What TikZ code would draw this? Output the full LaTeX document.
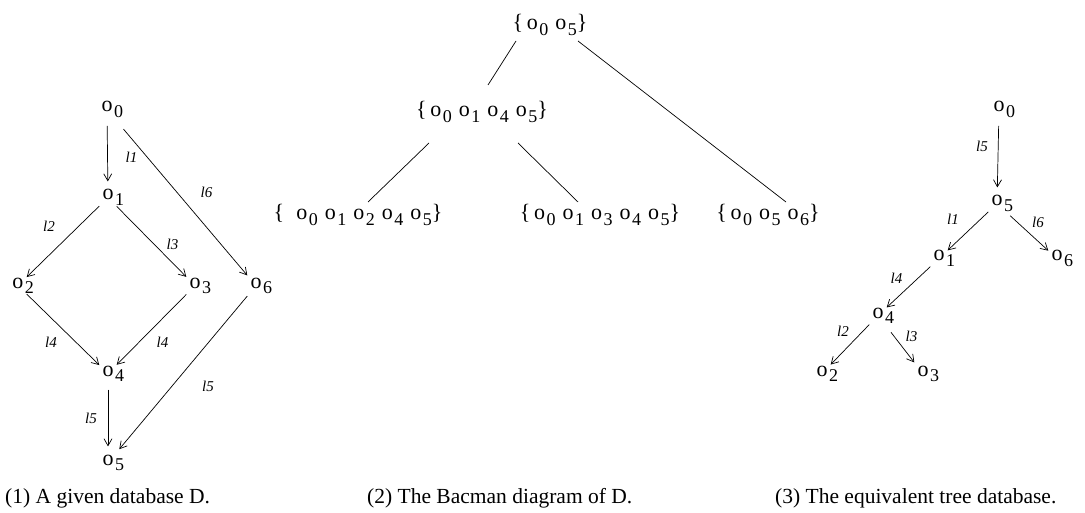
\documentclass[tikz,border=0pt]{standalone}
\usepackage{fontspec}
\setmainfont{Liberation Serif}
\usepackage{tikz}
\usetikzlibrary{arrows.meta}
\newcommand\nodefont{\fontsize{22}{26}\selectfont}
\newcommand\subfont{\fontsize{18}{21}\selectfont}
% object with subscript hanging outside the box
\newcommand\ob[1]{o\rlap{\kern1.5pt\raisebox{-5.5pt}{\subfont #1}}}
% object inside a set
\newcommand\os[1]{o\kern1.5pt\raisebox{-5.5pt}{\subfont #1}}
\newcommand\gap{\kern7pt}
\tikzset{
  ar/.style={-{Straight Barb[length=7pt,width=8pt]},line width=0.7pt},
  ln/.style={line width=0.7pt},
  obj/.style={inner xsep=3pt,inner ysep=8pt,font=\nodefont,anchor=base},
  setn/.style={inner sep=2pt,font=\nodefont,anchor=base},
  lbl/.style={font=\fontsize{15}{18}\selectfont\itshape,inner sep=0pt},
  capt/.style={font=\fontsize{21.5}{25}\selectfont,anchor=base west,inner sep=0pt}
}

\begin{document}
\begin{tikzpicture}[x=1pt,y=-1pt]
\useasboundingbox (0,0) rectangle (1085,513);
% (1) the database D
\node[obj] (a0) at (107,112) {\ob0};
\node[obj] (a1) at (108,200) {\ob1};
\node[obj] (a2) at (18,288) {\ob2};
\node[obj] (a3) at (195,288) {\ob3};
\node[obj] (a6) at (256,288) {\ob6};
\node[obj] (a4) at (108,376) {\ob4};
\node[obj] (a5) at (108,465) {\ob5};
\draw[ar] (a0) -- node[lbl,xshift=24pt,yshift=-4pt]{l1} (a1);
\draw[ar,shorten <=12pt] (a0) -- node[lbl,xshift=25pt,yshift=5pt]{l6} (a6);
\draw[ar] (a1) -- node[lbl,xshift=-14pt,yshift=15pt]{l2} (a2);
\draw[ar] (a1) -- node[lbl,xshift=21pt,yshift=-3pt]{l3} (a3);
\draw[ar] (a2) -- node[lbl,xshift=-12pt,yshift=-13pt]{l4} (a4);
\draw[ar] (a3) -- node[lbl,xshift=11pt,yshift=-13pt]{l4} (a4);
\draw[ar] (a4) -- node[lbl,xshift=-17pt]{l5} (a5);
\draw[ar,shorten >=4pt] (a6) -- node[lbl,xshift=26pt,yshift=-12pt]{l5} (a5);
% (2) the Bachman diagram
\node[setn] (s05) at (550,30) {\{\,\os0\gap\os5\}};
\node[setn] (s0145) at (482,117) {\{\,\os0\gap\os1\gap\os4\gap\os5\}};
\node[setn] (s01245) at (358,220) {\{\;\;\os0\gap\os1\gap\os2\gap\os4\gap\os5\}};
\node[setn] (s01345) at (600,220) {\{\,\os0\gap\os1\gap\os3\gap\os4\gap\os5\}};
\node[setn] (s056) at (768,220) {\{\,\os0\gap\os5\gap\os6\}};
\draw[ln] ([xshift=-34pt,yshift=-11pt]s05.base) -- ([xshift=6pt,yshift=32pt]s0145.base);
\draw[ln] ([xshift=28pt,yshift=-11pt]s05.base) -- ([xshift=18pt,yshift=18pt]s056.base);
\draw[ln] ([xshift=-53pt,yshift=-26pt]s0145.base) -- ([xshift=10pt,yshift=18pt]s01245.base);
\draw[ln] ([xshift=36pt,yshift=-26pt]s0145.base) -- ([xshift=-22pt,yshift=18pt]s01345.base);
% (3) the tree database
\node[obj] (b0) at (999,112) {\ob0};
\node[obj] (b5) at (997,206) {\ob5};
\node[obj] (b1) at (939,261) {\ob1};
\node[obj] (b6) at (1057,261) {\ob6};
\node[obj] (b4) at (878,318) {\ob4};
\node[obj] (b2) at (822,376) {\ob2};
\node[obj] (b3) at (923,376) {\ob3};
\draw[ar] (b0) -- node[lbl,xshift=-16pt,yshift=10pt]{l5} (b5);
\draw[ar] (b5) -- node[lbl,xshift=-15pt,yshift=12pt]{l1} (b1);
\draw[ar,shorten <=6pt] (b5) -- node[lbl,xshift=11pt,yshift=9pt]{l6} (b6);
\draw[ar] (b1) -- node[lbl,xshift=-12pt,yshift=9pt]{l4} (b4);
\draw[ar] (b4) -- node[lbl,xshift=-7pt,yshift=13pt]{l2} (b2);
\draw[ar,shorten <=7pt] (b4) -- node[lbl,xshift=11pt,yshift=8pt]{l3} (b3);
% captions
\node[capt] (c1) at (5,503) {(1) A given database D.};
\node[capt] (c2) at (367,503) {(2) The Bacman diagram of D.};
\node[capt] (c3) at (775,503) {(3) The equivalent tree database.};
\end{tikzpicture}
\end{document}
